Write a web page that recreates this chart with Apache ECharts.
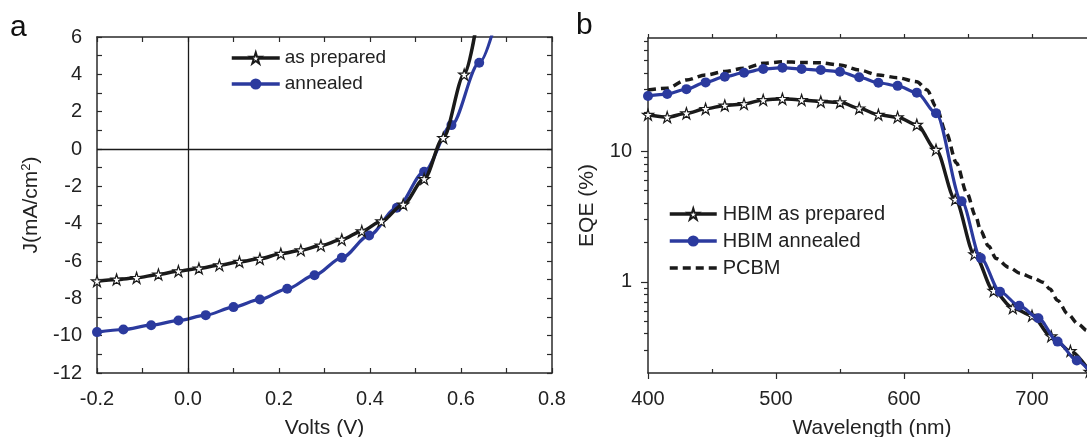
<!DOCTYPE html>
<html>
<head>
<meta charset="utf-8">
<script src="https://cdn.jsdelivr.net/npm/echarts@6/dist/echarts.min.js"></script>
<style>
html,body{margin:0;padding:0;background:#fff;}
#chart{width:1087px;height:437px;}
</style>
</head>
<body>
<div id="chart"></div>
<script>
// ---- Panel a: J–V curves ----
const asPreparedV = [-0.2,-0.157,-0.113,-0.065,-0.021,0.024,0.069,0.113,0.158,0.204,0.248,0.292,0.338,0.382,0.425,0.473,0.519,0.561,0.607,0.652];
const asPreparedJ = [-7.08,-6.99,-6.90,-6.72,-6.54,-6.40,-6.22,-6.04,-5.88,-5.61,-5.42,-5.17,-4.85,-4.40,-3.87,-2.97,-1.60,0.60,3.99,9.5];
const annealedV = [-0.2,-0.142,-0.081,-0.021,0.039,0.100,0.158,0.218,0.278,0.338,0.398,0.459,0.519,0.579,0.640,0.700];
const annealedJ = [-9.81,-9.67,-9.44,-9.19,-8.90,-8.47,-8.06,-7.49,-6.76,-5.83,-4.63,-3.15,-1.22,1.28,4.62,9.1];

// ---- Panel b: EQE spectra ----
const wlPrepared = [400,415,430,445,460,475,490,505,520,535,550,565,580,595,610,625,640,655,670,685,700,715,730,745];
const eqePrepared = [19.1,18.3,19.6,21.2,22.5,23.1,24.8,25.3,24.8,24.1,23.8,21.4,19.1,18.3,16.0,10.3,4.28,1.63,0.854,0.630,0.550,0.383,0.295,0.205];
const wlAnnealed = [400,415,430,445,460,475,490,505,520,535,550,565,580,595,610,625,645,660,675,690,705,720,735,750];
const eqeAnnealed = [26.6,27.5,30.0,33.8,37.4,40.1,42.8,43.8,42.8,42.0,40.8,37.0,33.6,31.8,28.2,19.6,4.15,1.52,0.839,0.656,0.526,0.348,0.249,0.18];
const wlPCBM = [400,415,430,445,460,475,490,505,520,535,550,565,580,595,610,618,625,633,641,649,656,660,666,672,682,691,701,709,714,720,728,736,743,750];
const eqePCBM = [29.6,30.5,35.3,38.5,41.0,43.3,47.3,48.6,48.1,47.8,45.9,42.0,38.5,36.7,34.2,29.6,22.1,13.8,8.15,4.81,3.19,2.45,1.88,1.51,1.29,1.16,1.07,0.99,0.88,0.72,0.567,0.475,0.423,0.38];

// tick labels / values
const eqeMajorTicks = [1, 10];
const eqeMinorTicks = [0.3,0.4,0.5,0.6,0.7,0.8,0.9,2,3,4,5,6,7,8,9,20,30,40,50,60,70];
const wlInnerTicks = [450,550,650,750];

const zip = (a, b) => a.map((v, i) => [v, b[i]]);

const FONT = "'Liberation Sans', Arial, sans-serif";
const INK = '#1a1a1a';
const BLUE = '#2b3a9e';
const AXC = '#2a2a2a';
const STAR = 'path://M50 0 L61.23 34.55 L97.55 34.55 L68.16 55.9 L79.39 90.45 L50 69.1 L20.61 90.45 L31.84 55.9 L2.45 34.55 L38.77 34.55 Z';

const axisLine = {show: true, onZero: false, lineStyle: {color: AXC, width: 1.5}};
const lab = {fontSize: 20, color: '#222', fontFamily: FONT};

const chart = echarts.init(document.getElementById('chart'), null, {renderer: 'canvas'});
chart.setOption({
  animation: false,
  backgroundColor: '#fff',
  textStyle: {fontFamily: FONT},
  title: [
    {text: 'a', left: 5, top: 8, textStyle: {fontSize: 30, fontWeight: 'normal', color: '#111', fontFamily: FONT}},
    {text: 'b', left: 571, top: 6, textStyle: {fontSize: 30, fontWeight: 'normal', color: '#111', fontFamily: FONT}}
  ],
  grid: [
    {left: 97, top: 37, width: 455, height: 336, outerBoundsMode: 'none', containLabel: false},
    {left: 648, top: 38, width: 448, height: 335, outerBoundsMode: 'none', containLabel: false}
  ],
  legend: [
    {
      orient: 'vertical', left: 225, top: 43, itemWidth: 48, itemHeight: 14, itemGap: 6,
      data: ['as prepared', 'annealed'],
      lineStyle: {width: 3.5},
      textStyle: {fontSize: 19, color: '#222', fontFamily: FONT, lineHeight: 20, padding: [0, 0, 0, 0]}
    },
    {
      orient: 'vertical', left: 663, top: 199, itemWidth: 47, itemHeight: 14, itemGap: 7,
      data: ['HBIM as prepared', 'HBIM annealed', {name: 'PCBM', itemStyle: {opacity: 0}}],
      lineStyle: {width: 3.5},
      textStyle: {fontSize: 20, color: '#222', fontFamily: FONT, lineHeight: 20, padding: [0, 0, 0, 1]}
    }
  ],
  xAxis: [
    {
      gridIndex: 0, type: 'value', position: 'bottom', min: -0.2, max: 0.8, interval: 0.2,
      axisLine, axisTick: {show: true, inside: true, length: 5, lineStyle: {color: AXC, width: 1.2}},
      minorTick: {show: true, splitNumber: 2, length: 5, lineStyle: {color: AXC, width: 1.2}},
      splitLine: {show: false},
      axisLabel: Object.assign({margin: 16, formatter: v => v.toFixed(1)}, lab),
      name: 'Volts (V)', nameLocation: 'middle', nameGap: 45,
      nameTextStyle: {fontSize: 21, color: '#222', fontFamily: FONT}
    },
    {
      gridIndex: 0, type: 'value', position: 'top', min: -0.2, max: 0.8, interval: 0.2,
      axisLine, axisTick: {show: true, inside: true, length: 5, lineStyle: {color: AXC, width: 1.2}},
      minorTick: {show: true, splitNumber: 2, length: 5, lineStyle: {color: AXC, width: 1.2}},
      splitLine: {show: false}, axisLabel: {show: false}
    },
    {
      gridIndex: 1, type: 'value', position: 'bottom', min: 400, max: 750, interval: 100,
      axisLine, axisTick: {show: true, inside: false, length: 6, lineStyle: {color: AXC, width: 1.2}},
      splitLine: {show: false},
      axisLabel: Object.assign({margin: 16, showMaxLabel: false}, lab),
      name: 'Wavelength (nm)', nameLocation: 'middle', nameGap: 45,
      nameTextStyle: {fontSize: 21, color: '#222', fontFamily: FONT}
    },
    {
      gridIndex: 1, type: 'value', position: 'bottom', min: 400, max: 750,
      axisLine: {show: false},
      axisTick: {show: true, inside: true, length: 4, customValues: wlInnerTicks, lineStyle: {color: AXC, width: 1.2}},
      splitLine: {show: false}, axisLabel: {show: false}
    },
    {
      gridIndex: 1, type: 'value', position: 'top', min: 400, max: 750, interval: 50,
      axisLine, axisTick: {show: true, inside: false, length: 4, lineStyle: {color: AXC, width: 1.2}},
      splitLine: {show: false}, axisLabel: {show: false}
    }
  ],
  yAxis: [
    {
      gridIndex: 0, type: 'value', position: 'left', min: -12, max: 6, interval: 2,
      axisLine, axisTick: {show: true, inside: true, length: 5, lineStyle: {color: AXC, width: 1.2}},
      minorTick: {show: true, splitNumber: 2, length: 5, lineStyle: {color: AXC, width: 1.2}},
      splitLine: {show: false},
      axisLabel: Object.assign({margin: 15}, lab),
      name: 'J(mA/cm{sup|2})', nameLocation: 'middle', nameGap: 55, nameRotate: 90,
      nameTextStyle: {fontSize: 21, color: '#222', fontFamily: FONT,
        rich: {sup: {fontSize: 13, color: '#222', fontFamily: FONT, padding: [0, 0, 9, 0]}}}
    },
    {
      gridIndex: 0, type: 'value', position: 'right', min: -12, max: 6, interval: 2,
      axisLine, axisTick: {show: true, inside: true, length: 5, lineStyle: {color: AXC, width: 1.2}},
      minorTick: {show: true, splitNumber: 2, length: 5, lineStyle: {color: AXC, width: 1.2}},
      splitLine: {show: false}, axisLabel: {show: false}
    },
    {
      gridIndex: 1, type: 'log', logBase: 10, position: 'left', min: 0.2, max: 74,
      axisLine, axisTick: {show: true, inside: false, length: 7, customValues: eqeMajorTicks, lineStyle: {color: AXC, width: 1.2}},
      splitLine: {show: false},
      axisLabel: Object.assign({margin: 16, customValues: eqeMajorTicks}, lab),
      name: 'EQE (%)', nameLocation: 'middle', nameGap: 50, nameRotate: 90,
      nameTextStyle: {fontSize: 21, color: '#222', fontFamily: FONT}
    },
    {
      gridIndex: 1, type: 'log', logBase: 10, position: 'left', min: 0.2, max: 74,
      axisLine: {show: false},
      axisTick: {show: true, inside: false, length: 4, customValues: eqeMinorTicks, lineStyle: {color: AXC, width: 1.2}},
      splitLine: {show: false}, axisLabel: {show: false}
    }
  ],
  series: [
    {
      name: 'as prepared', type: 'line', xAxisIndex: 0, yAxisIndex: 0,
      data: zip(asPreparedV, asPreparedJ), smooth: 0.3, smoothMonotone: 'x', clip: true,
      symbol: STAR, symbolSize: 11, color: INK,
      itemStyle: {color: '#fff', borderColor: INK, borderWidth: 1.2},
      lineStyle: {color: INK, width: 3.5}, z: 3,
      markLine: {
        silent: true, symbol: ['none', 'none'], label: {show: false}, animation: false,
        lineStyle: {color: INK, width: 1.3, type: 'solid'},
        emphasis: {disabled: true},
        data: [{xAxis: 0}, {yAxis: 0}]
      }
    },
    {
      name: 'annealed', type: 'line', xAxisIndex: 0, yAxisIndex: 0,
      data: zip(annealedV, annealedJ), smooth: 0.3, smoothMonotone: 'x', clip: true,
      symbol: 'circle', symbolSize: 10, color: BLUE,
      itemStyle: {color: BLUE}, lineStyle: {color: BLUE, width: 3.2}, z: 2
    },
    {
      name: 'HBIM as prepared', type: 'line', xAxisIndex: 2, yAxisIndex: 2,
      data: zip(wlPrepared, eqePrepared), smooth: 0.3, smoothMonotone: 'x', clip: true,
      symbol: STAR, symbolSize: 11, color: INK,
      itemStyle: {color: '#fff', borderColor: INK, borderWidth: 1.2},
      lineStyle: {color: INK, width: 3.5}, z: 3
    },
    {
      name: 'HBIM annealed', type: 'line', xAxisIndex: 2, yAxisIndex: 2,
      data: zip(wlAnnealed, eqeAnnealed), smooth: 0.3, smoothMonotone: 'x', clip: true,
      symbol: 'circle', symbolSize: 10, color: BLUE,
      itemStyle: {color: BLUE}, lineStyle: {color: BLUE, width: 3.2}, z: 4
    },
    {
      name: 'PCBM', type: 'line', xAxisIndex: 2, yAxisIndex: 2,
      data: zip(wlPCBM, eqePCBM), smooth: 0.3, smoothMonotone: 'x', clip: true,
      showSymbol: false, symbol: 'none', color: INK,
      lineStyle: {color: INK, width: 3.5, type: [8, 5]}, z: 2
    }
  ]
});
</script>
</body>
</html>
